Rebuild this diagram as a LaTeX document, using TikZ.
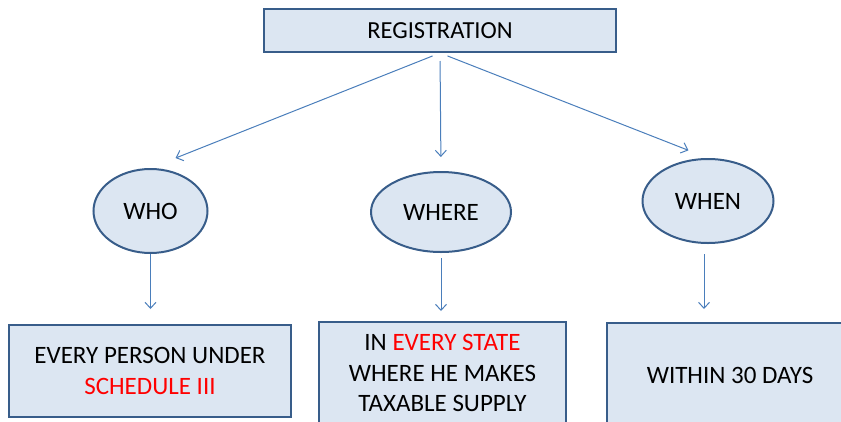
\documentclass[tikz,border=0pt]{standalone}
\usepackage{fontspec}
\setmainfont{Carlito}
\usetikzlibrary{arrows.meta,shapes.geometric}
\definecolor{boxfill}{HTML}{DCE6F2}
\definecolor{boxline}{HTML}{385D8A}
\definecolor{arrowc}{HTML}{4A7EBB}
\definecolor{redtxt}{HTML}{FF0000}
\tikzset{
  rbox/.style={draw=boxline, fill=boxfill, line width=2pt, inner sep=0pt, align=center, font=\fontsize{25}{30.5}\selectfont},
  oval/.style={ellipse, draw=boxline, fill=boxfill, line width=2pt, inner sep=0pt, font=\fontsize{25}{28}\selectfont},
  arr/.style={draw=arrowc, line width=1pt, -{Straight Barb[length=6pt,width=11pt]}}
}
\begin{document}
\begin{tikzpicture}[x=1pt,y=-1pt]
\useasboundingbox (0,0) rectangle (841,421);
\node[rbox, minimum width=352pt, minimum height=43pt, font=\fontsize{24.5}{28}\selectfont] (top) at (440,30.5) {REGISTRATION};
\node[oval, minimum width=114pt, minimum height=84pt] (who) at (150.5,211) {WHO};
\node[oval, minimum width=140pt, minimum height=80pt] (where) at (441,212) {WHERE};
\node[oval, minimum width=131pt, minimum height=84pt] (when) at (708,201) {WHEN};
\node[rbox, minimum width=282pt, minimum height=92pt] (b1) at (150,371) {EVERY PERSON UNDER\\\textcolor{redtxt}{SCHEDULE III}};
\node[rbox, minimum width=247pt, minimum height=102pt] (b2) at (442.5,373) {IN \textcolor{redtxt}{EVERY STATE}\\WHERE HE MAKES\\TAXABLE SUPPLY};
\node[rbox, minimum width=246pt, minimum height=104pt] (b3) at (730,375) {WITHIN 30 DAYS};
\draw[arr, shorten <=8pt, shorten >=27pt] (top.south) -- (who.north);
\draw[arr, shorten <=8pt, shorten >=14pt] (top.south) -- (where.north);
\draw[arr, shorten <=8pt, shorten >=21pt] (top.south) -- (when.north);
\draw[arr, shorten >=15pt] (who.south) -- (who.south |- b1.north);
\draw[arr, shorten <=5pt, shorten >=10pt] (where.south) -- (where.south |- b2.north);
\draw[arr, shorten <=10pt, shorten >=13pt] ([xshift=-4pt]when.south) -- ([xshift=-4pt]when.south |- b3.north);
\end{tikzpicture}
\end{document}
